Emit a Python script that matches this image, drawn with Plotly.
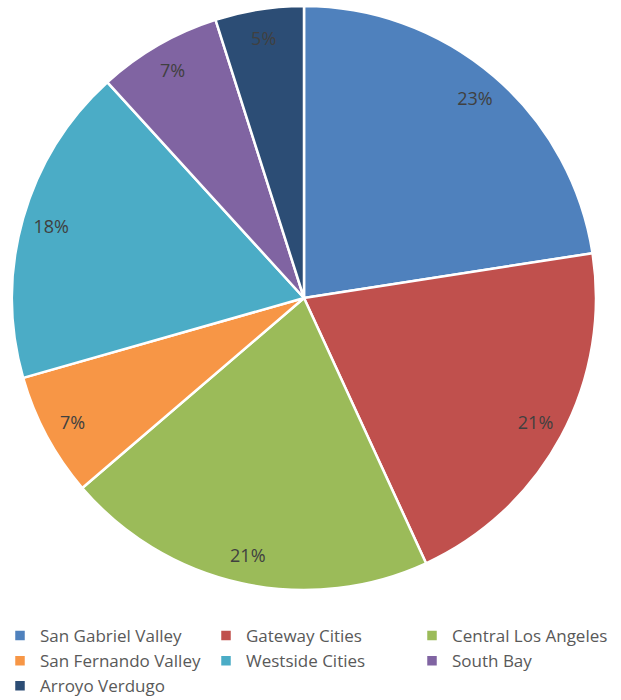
import plotly.graph_objects as go

categories = ["San Gabriel Valley", "Gateway Cities", "Central Los Angeles",
              "San Fernando Valley", "Westside Cities", "South Bay", "Arroyo Verdugo"]
values = [23, 21, 21, 7, 18, 7, 5]
colors = ["#4F81BD", "#C0504D", "#9BBB59", "#F79646", "#4BACC6", "#8064A2", "#2C4D75"]

dom = dict(x=[12/621, 596/621], y=[1-590/700, 1-6/700])

fig = go.Figure()
fig.add_trace(go.Pie(
    labels=categories,
    values=values,
    sort=False,
    direction="clockwise",
    rotation=0,
    marker=dict(colors=colors, line=dict(color="white", width=2.5)),
    textinfo="none",
    domain=dom,
    hoverinfo="label+percent",
))
# transparent ring overlay so that percentage labels sit near the outer edge
fig.add_trace(go.Pie(
    labels=categories,
    values=values,
    sort=False,
    direction="clockwise",
    rotation=0,
    hole=0.8,
    marker=dict(colors=["rgba(0,0,0,0)"] * len(values), line=dict(width=0)),
    texttemplate="%{percent:.0%}",
    textposition="inside",
    insidetextorientation="horizontal",
    textfont=dict(family="Open Sans", size=18, color="#404040"),
    domain=dom,
    showlegend=False,
    hoverinfo="skip",
))

fig.update_layout(
    width=621, height=700,
    margin=dict(l=0, r=0, t=0, b=0, autoexpand=False),
    paper_bgcolor="white",
    showlegend=True,
    legend=dict(
        orientation="h",
        x=0, xanchor="left",
        y=-4/700, yanchor="bottom",
        entrywidth=161, entrywidthmode="pixels",
        font=dict(family="Open Sans", size=17, color="#595959"),
        tracegroupgap=0, itemwidth=30,
    ),
)

fig.write_html("out.html")
